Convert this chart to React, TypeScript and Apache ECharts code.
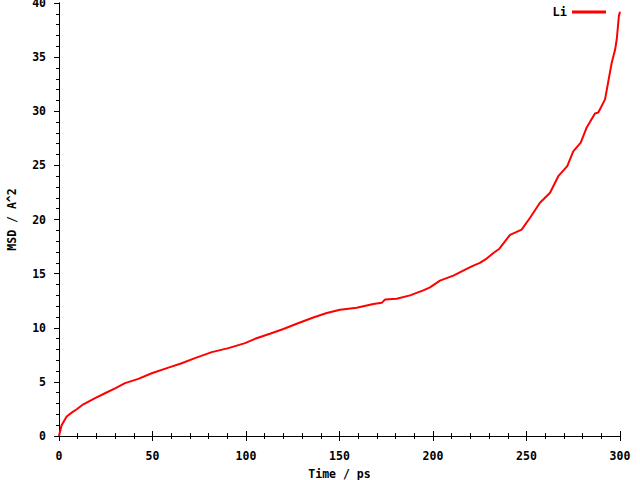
import React, { useEffect, useRef } from "react";
import * as echarts from "echarts";

const timePs = [0, 1.4, 4.1, 6.8, 9.5, 13, 19.3, 24.6, 30, 35.3, 42.4, 49.6, 58.5, 65.6, 72.7, 81.7, 90.6, 99.5, 104.8, 112.8, 120, 127.1, 136, 143.2, 150.3, 159.2, 168.1, 172.6, 174.3, 180.6, 187.7, 194.8, 198.4, 203.7, 210.9, 218, 221.6, 225.1, 228.7, 232.3, 235.5, 241.2, 247.4, 251.9, 257.2, 262.6, 267, 271.8, 275, 279, 282.2, 286.6, 288.4, 292, 293.8, 295.6, 297.4, 298.3, 299.4, 300];
const msdLi = [0, 1.0, 1.8, 2.16, 2.47, 2.93, 3.49, 3.95, 4.4, 4.88, 5.28, 5.8, 6.32, 6.72, 7.19, 7.75, 8.12, 8.58, 8.98, 9.44, 9.88, 10.37, 10.95, 11.36, 11.67, 11.85, 12.19, 12.3, 12.6, 12.68, 12.99, 13.45, 13.73, 14.35, 14.81, 15.43, 15.74, 15.99, 16.39, 16.9, 17.3, 18.58, 19.07, 20.16, 21.55, 22.47, 24.0, 24.93, 26.3, 27.1, 28.5, 29.8, 29.88, 31.1, 32.8, 34.5, 35.7, 36.7, 38.8, 39.2];

const seriesName = "Li";
const xTitle = "Time / ps";
const yTitle = "MSD / A^2";

const FONT = "DejaVu Sans Mono";

export default function App() {
  const ref = useRef<HTMLDivElement>(null);
  useEffect(() => {
    if (!ref.current) return;
    const chart = echarts.init(ref.current, null, { renderer: "svg" });
    const axisLine = { show: true, lineStyle: { color: "#000", width: 1 } };
    const tickOut = { show: true, inside: false, length: 5, lineStyle: { color: "#000" } };
    const minorOut = { show: true, splitNumber: 5, length: 3, lineStyle: { color: "#000" } };
    const labelStyle = { color: "#000", fontFamily: FONT, fontWeight: "bold" as const, fontSize: 11.5 };
    chart.setOption({
      animation: false,
      backgroundColor: "#fff",
      grid: { left: 59, right: 20, top: 3, bottom: 44, containLabel: false, outerBoundsMode: "none" },
      legend: {
        right: 29,
        top: 1,
        icon: "rect",
        itemWidth: 34,
        itemHeight: 3,
        itemGap: 10,
        align: "right",
        textStyle: { ...labelStyle, fontSize: 12 },
        data: [seriesName],
      },
      xAxis: [
        {
          type: "value",
          min: 0,
          max: 300,
          interval: 50,
          position: "bottom",
          axisLine,
          axisTick: tickOut,
          minorTick: minorOut,
          splitLine: { show: false },
          minorSplitLine: { show: false },
          axisLabel: { ...labelStyle, margin: 14 },
          name: xTitle,
          nameLocation: "middle",
          nameGap: 32,
          nameTextStyle: labelStyle,
        },
        {
          type: "value",
          min: 0,
          max: 300,
          interval: 50,
          position: "top",
          axisLine,
          axisTick: tickOut,
          minorTick: minorOut,
          splitLine: { show: false },
          minorSplitLine: { show: false },
          axisLabel: { show: false },
        },
      ],
      yAxis: [
        {
          type: "value",
          min: 0,
          max: 40,
          interval: 5,
          position: "left",
          axisLine,
          axisTick: tickOut,
          minorTick: minorOut,
          splitLine: { show: false },
          minorSplitLine: { show: false },
          axisLabel: { ...labelStyle, margin: 13 },
          name: yTitle,
          nameLocation: "middle",
          nameRotate: 90,
          nameGap: 41,
          nameTextStyle: labelStyle,
        },
        {
          type: "value",
          min: 0,
          max: 40,
          interval: 5,
          position: "right",
          axisLine,
          axisTick: { show: false },
          minorTick: { show: false },
          splitLine: { show: false },
          axisLabel: { show: false },
        },
      ],
      series: [
        {
          name: seriesName,
          type: "line",
          xAxisIndex: 0,
          yAxisIndex: 0,
          showSymbol: false,
          symbol: "none",
          color: "#ff0000",
          lineStyle: { color: "#ff0000", width: 2 },
          data: timePs.map((t, i) => [t, msdLi[i]]),
        },
      ],
    });
    return () => chart.dispose();
  }, []);
  return (
    <div
      ref={ref}
      style={{ position: "fixed", left: 0, top: 0, width: 640, height: 480 }}
    />
  );
}
